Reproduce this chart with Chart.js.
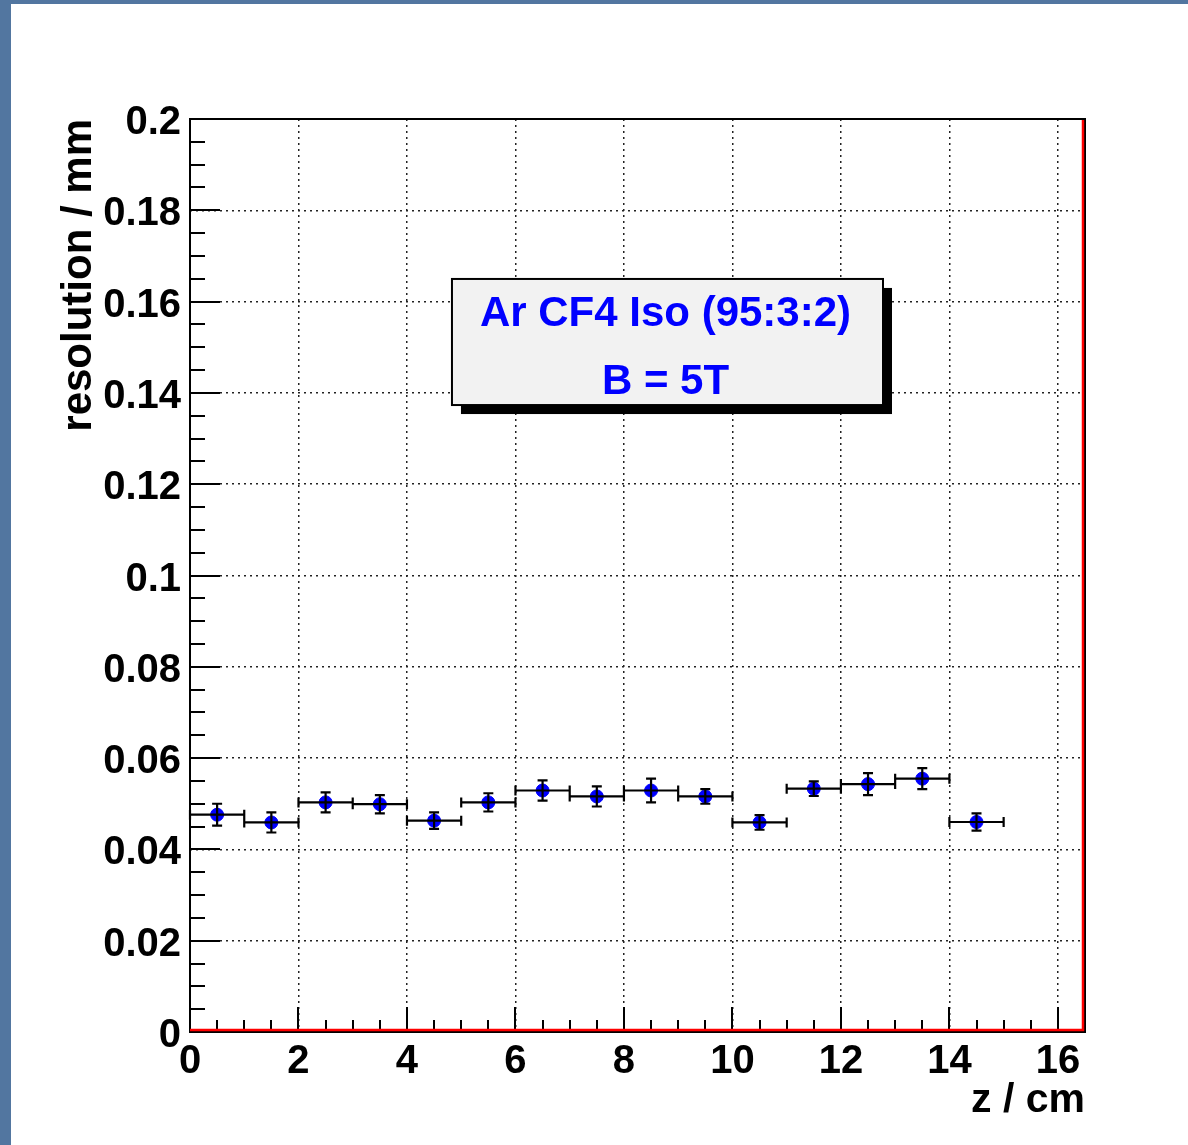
<!DOCTYPE html>
<html>
<head>
<meta charset="utf-8">
<script src="https://cdn.jsdelivr.net/npm/chart.js@4.4.0/dist/chart.umd.min.js"></script>
<style>
html, body { margin: 0; padding: 0; }
body { width: 1188px; height: 1145px; background: #5276a0; overflow: hidden; position: relative; }
#wrap { position: absolute; left: 11px; top: 4px; width: 1177px; height: 1141px; background: #fff; }
</style>
</head>
<body>
<div id="wrap"><canvas id="resChart" width="1177" height="1141"></canvas></div>
<script>
// bin centres and half widths along z (cm)
const zCenters = [0.5, 1.5, 2.5, 3.5, 4.5, 5.5, 6.5, 7.5, 8.5, 9.5, 10.5, 11.5, 12.5, 13.5, 14.5];
const zHalfWidth = [0.5, 0.5, 0.5, 0.5, 0.5, 0.5, 0.5, 0.5, 0.5, 0.5, 0.5, 0.5, 0.5, 0.5, 0.5];
// resolution (mm) and its error
const resolution = [0.0476, 0.0459, 0.0503, 0.0499, 0.0463, 0.0503, 0.0529, 0.0516, 0.0529, 0.0516, 0.0459, 0.0533, 0.0543, 0.0555, 0.0460];
const resolutionErr = [0.0024, 0.0022, 0.0022, 0.0020, 0.0018, 0.0020, 0.0022, 0.0022, 0.0026, 0.0016, 0.0016, 0.0016, 0.0024, 0.0023, 0.0019];
// axis ticks
const zTicks = [0, 2, 4, 6, 8, 10, 12, 14, 16];
const resTicks = [0, 0.02, 0.04, 0.06, 0.08, 0.1, 0.12, 0.14, 0.16, 0.18, 0.2];
const legendLines = ['Ar CF4 Iso (95:3:2)', 'B = 5T'];

const FONT = '"Liberation Sans", Arial, Helvetica, sans-serif';

function minorValues(majors, div, max) {
	const out = [];
	for (let i = 0; i < majors.length - 1; i++) {
		const step = (majors[i + 1] - majors[i]) / div;
		for (let j = 1; j < div; j++) out.push(majors[i] + j * step);
	}
	// continue past the last major up to the axis end
	const step = (majors[1] - majors[0]) / div;
	for (let v = majors[majors.length - 1] + step; v <= max + 1e-9; v += step) out.push(v);
	return out;
}

const rootFrame = {
	id: 'rootFrame',
	beforeDatasetsDraw(chart) {
		const { ctx, chartArea: a, scales: { x, y } } = chart;
		ctx.save();
		ctx.strokeStyle = '#000';
		ctx.lineWidth = 2;
		ctx.beginPath();
		// y axis ticks (inside)
		resTicks.forEach(v => {
			const p = Math.round(y.getPixelForValue(v));
			ctx.moveTo(a.left, p); ctx.lineTo(a.left + 30, p);
		});
		minorValues(resTicks, 4, 0.2).forEach(v => {
			const p = Math.round(y.getPixelForValue(v));
			ctx.moveTo(a.left, p); ctx.lineTo(a.left + 15, p);
		});
		// x axis ticks (inside)
		zTicks.forEach(v => {
			const p = Math.round(x.getPixelForValue(v));
			ctx.moveTo(p, a.bottom); ctx.lineTo(p, a.bottom - 25);
		});
		minorValues(zTicks, 4, 16.4).forEach(v => {
			const p = Math.round(x.getPixelForValue(v));
			ctx.moveTo(p, a.bottom); ctx.lineTo(p, a.bottom - 12);
		});
		ctx.stroke();
		ctx.strokeRect(a.left, a.top, a.right - a.left, a.bottom - a.top);

		// text box with shadow
		const w = a.right - a.left, h = a.bottom - a.top;
		const bx = a.left + 0.2927 * w, by = a.top + 0.1752 * h;
		const bw = 0.4816 * w, bh = 0.1381 * h;
		ctx.fillStyle = '#000';
		ctx.fillRect(bx + 9, by + 9, bw, bh);
		ctx.fillStyle = '#f2f2f2';
		ctx.fillRect(bx, by, bw, bh);
		ctx.lineWidth = 2;
		ctx.strokeRect(bx, by, bw, bh);
		ctx.fillStyle = '#0000ff';
		ctx.font = 'bold 42px ' + FONT;
		ctx.textAlign = 'center';
		ctx.textBaseline = 'middle';
		legendLines.forEach((t, i) => {
			ctx.fillText(t, bx + bw / 2 - 2, by + 35 + i * 68);
		});
		ctx.restore();
	},
	afterDatasetsDraw(chart) {
		const { ctx, chartArea: a, scales: { x, y } } = chart;
		ctx.save();
		ctx.strokeStyle = '#000';
		ctx.lineWidth = 2.2;
		ctx.beginPath();
		zCenters.forEach((z, i) => {
			const px = x.getPixelForValue(z);
			const py = y.getPixelForValue(resolution[i]);
			const x0 = x.getPixelForValue(z - zHalfWidth[i]);
			const x1 = x.getPixelForValue(z + zHalfWidth[i]);
			const y0 = y.getPixelForValue(resolution[i] + resolutionErr[i]);
			const y1 = y.getPixelForValue(resolution[i] - resolutionErr[i]);
			ctx.moveTo(x0, py); ctx.lineTo(x1, py);
			ctx.moveTo(x0, py - 5); ctx.lineTo(x0, py + 5);
			ctx.moveTo(x1, py - 5); ctx.lineTo(x1, py + 5);
			ctx.moveTo(px, y0); ctx.lineTo(px, y1);
			ctx.moveTo(px - 5, y0); ctx.lineTo(px + 5, y0);
			ctx.moveTo(px - 5, y1); ctx.lineTo(px + 5, y1);
		});
		ctx.stroke();
		// red axis lines on bottom and right
		ctx.strokeStyle = '#ff0000';
		ctx.lineWidth = 2.5;
		ctx.beginPath();
		ctx.moveTo(a.left, a.bottom - 2); ctx.lineTo(a.right - 2, a.bottom - 2);
		ctx.lineTo(a.right - 2, a.top + 1);
		ctx.stroke();
		ctx.restore();
	}
};

new Chart(document.getElementById('resChart'), {
	type: 'scatter',
	data: {
		datasets: [{
			data: zCenters.map((z, i) => ({ x: z, y: resolution[i] })),
			backgroundColor: '#0000ff',
			borderColor: '#0000ff',
			borderWidth: 1,
			pointRadius: 6.5,
			showLine: false
		}]
	},
	options: {
		responsive: false,
		animation: false,
		layout: { padding: { top: 115, right: 103, left: 0, bottom: 0 } },
		plugins: {
			legend: { display: false },
			tooltip: { enabled: false }
		},
		scales: {
			x: {
				type: 'linear',
				min: 0,
				max: 16.5,
				afterFit: s => { s.height = 113; },
				afterBuildTicks: s => { s.ticks = zTicks.map(v => ({ value: v })); },
				grid: { color: '#222', lineWidth: 1.5, drawTicks: false },
				border: { display: false, dash: [2, 4] },
				ticks: {
					autoSkip: false,
					maxRotation: 0,
					padding: 6,
					color: '#000',
					font: { family: FONT, size: 40, weight: 'bold' },
					callback: v => String(v)
				},
				title: {
					display: true,
					text: 'z / cm',
					align: 'end',
					color: '#000',
					padding: { top: 0, bottom: 20 },
					font: { family: FONT, size: 41, weight: 'bold' }
				}
			},
			y: {
				min: 0,
				max: 0.2,
				afterFit: s => { s.width = 179; },
				afterBuildTicks: s => { s.ticks = resTicks.map(v => ({ value: v })); },
				grid: { color: '#222', lineWidth: 1.5, drawTicks: false },
				border: { display: false, dash: [2, 4] },
				ticks: {
					autoSkip: false,
					padding: 9,
					labelOffset: 4,
					color: '#000',
					font: { family: FONT, size: 40, weight: 'bold' },
					callback: v => String(+v.toFixed(3))
				},
				title: {
					display: true,
					text: 'resolution / mm',
					align: 'end',
					color: '#000',
					padding: { top: 43, bottom: 0 },
					font: { family: FONT, size: 42, weight: 'bold' }
				}
			}
		}
	},
	plugins: [rootFrame]
});
</script>
</body>
</html>
